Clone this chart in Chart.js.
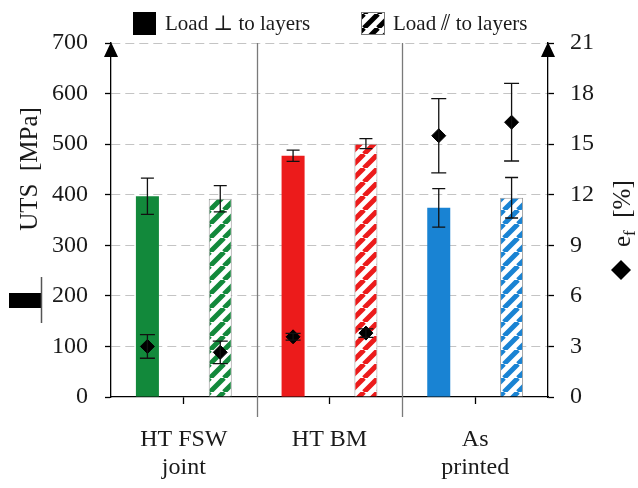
<!DOCTYPE html>
<html>
<head>
<meta charset="utf-8">
<script src="https://cdn.jsdelivr.net/npm/chart.js@4.4.1/dist/chart.umd.min.js"></script>
<style>
  html, body { margin: 0; padding: 0; background: #fff; }
</style>
</head>
<body>
<canvas id="myChart" width="638" height="488"></canvas>
<script>
// categories and values
const groups = [['HT FSW', 'joint'], 'HT BM', ['As', 'printed']];
const legendLabels = ['Load \u22A5 to layers', 'Load \u2AFD to layers'];
const utsPerp = [397, 477, 374];
const utsPerpErr = [36, 11, 38];
const utsPar = [392, 501, 394];
const utsParErr = [26, 10, 40];
const efPerp = [3.0, 3.57, 15.5];
const efPerpErr = [0.7, 0.2, 2.2];
const efPar = [2.65, 3.79, 16.3];
const efParErr = [0.67, 0.25, 2.3];
const groupColors = ['#12893b', '#ec1b1b', '#1983d3'];

const serif = '"Liberation Serif", "DejaVu Serif", serif';

// each group has two slots on a hidden axis: k = 0 for perpendicular, 1 for parallel
const slot = (arr, k) => arr.flatMap(v => k === 0 ? [v, null] : [null, v]);
const slotLabels = groups.flatMap((g, i) => ['g' + i + 'perp', 'g' + i + 'par']);
const slotColors = groupColors.flatMap(c => [c, c]);

function hatch(color) {
    const size = 14;
    const c = document.createElement('canvas');
    c.width = size;
    c.height = size;
    const g = c.getContext('2d');
    g.fillStyle = '#fff';
    g.fillRect(0, 0, size, size);
    g.strokeStyle = color;
    g.lineWidth = 5;
    g.beginPath();
    for (let k = -1; k <= 1; k++) {
        g.moveTo(k * size, size);
        g.lineTo(k * size + size, 0);
    }
    g.stroke();
    return g.createPattern(c, 'repeat');
}

function drawErr(ctx, x, scale, v, e, cap) {
    const yt = scale.getPixelForValue(v + e);
    const yb = scale.getPixelForValue(v - e);
    ctx.beginPath();
    ctx.moveTo(x, yt); ctx.lineTo(x, yb);
    ctx.moveTo(x - cap, yt); ctx.lineTo(x + cap, yt);
    ctx.moveTo(x - cap, yb); ctx.lineTo(x + cap, yb);
    ctx.stroke();
}

const decor = {
    id: 'decor',
    beforeDraw(chart) {
        const ctx = chart.ctx;
        ctx.save();
        ctx.fillStyle = '#fff';
        ctx.fillRect(0, 0, chart.width, chart.height);
        ctx.restore();
    },
    beforeDatasetsDraw(chart) {
        // separators between the groups
        const ctx = chart.ctx;
        const xg = chart.scales.xg;
        const area = chart.chartArea;
        const half = (xg.getPixelForValue(1) - xg.getPixelForValue(0)) / 2;
        ctx.save();
        ctx.strokeStyle = '#7a7a7a';
        ctx.lineWidth = 1.3;
        for (let i = 0; i < groups.length - 1; i++) {
            const px = Math.round(xg.getPixelForValue(i) + half) + 0.5;
            ctx.beginPath();
            ctx.moveTo(px, area.top);
            ctx.lineTo(px, area.bottom + 20);
            ctx.stroke();
        }
        ctx.restore();
    },
    afterDatasetsDraw(chart) {
        const ctx = chart.ctx;
        ctx.save();
        ctx.strokeStyle = '#111';
        ctx.lineWidth = 1.3;
        chart.data.datasets.forEach((ds, di) => {
            const meta = chart.getDatasetMeta(di);
            const scale = chart.scales[meta.yAxisID];
            meta.data.forEach((el, i) => {
                if (ds.data[i] === null) return;
                drawErr(ctx, el.x, scale, ds.data[i], ds.errors[i], ds.type === 'line' ? 7.5 : 6.5);
            });
        });
        ctx.restore();
    },
    afterDraw(chart) {
        const ctx = chart.ctx;
        const area = chart.chartArea;
        ctx.save();
        // arrows on both value axes
        ctx.fillStyle = '#000';
        [area.left, area.right].forEach(ax => {
            ctx.beginPath();
            ctx.moveTo(ax, area.top - 1);
            ctx.lineTo(ax - 7, area.top + 14);
            ctx.lineTo(ax + 7, area.top + 14);
            ctx.closePath();
            ctx.fill();
        });

        // legend
        ctx.font = '21px ' + serif;
        ctx.textBaseline = 'alphabetic';
        ctx.fillStyle = '#000';
        ctx.fillRect(133, 12, 23, 23);
        ctx.fillStyle = '#1a1a1a';
        ctx.fillText(legendLabels[0], 165, 30);
        ctx.fillStyle = hatch('#000');
        ctx.fillRect(361, 12, 24, 23);
        ctx.strokeStyle = '#777';
        ctx.lineWidth = 1;
        ctx.strokeRect(361.5, 12.5, 23, 22);
        ctx.fillStyle = '#1a1a1a';
        ctx.fillText(legendLabels[1], 393, 30);

        // left title + bar icon
        ctx.save();
        ctx.translate(37, 169);
        ctx.rotate(-Math.PI / 2);
        ctx.font = '25px ' + serif;
        ctx.textAlign = 'center';
        ctx.fillText('UTS  [MPa]', 0, 0);
        ctx.restore();
        ctx.fillStyle = '#000';
        ctx.fillRect(9, 293, 32, 15);
        ctx.strokeStyle = '#555';
        ctx.lineWidth = 1.5;
        ctx.beginPath();
        ctx.moveTo(41.5, 277);
        ctx.lineTo(41.5, 323);
        ctx.stroke();

        // right title + diamond icon
        ctx.save();
        ctx.translate(630, 247);
        ctx.rotate(-Math.PI / 2);
        ctx.fillStyle = '#1a1a1a';
        ctx.textAlign = 'left';
        ctx.font = '25px ' + serif;
        ctx.fillText('e', 0, 0);
        let w = ctx.measureText('e').width;
        ctx.font = '17px ' + serif;
        ctx.fillText('f', w, 5);
        w += ctx.measureText('f').width;
        ctx.font = '25px ' + serif;
        ctx.fillText('  [%]', w, 0);
        ctx.restore();
        ctx.fillStyle = '#000';
        ctx.beginPath();
        ctx.moveTo(621, 260);
        ctx.lineTo(631, 270);
        ctx.lineTo(621, 280);
        ctx.lineTo(611, 270);
        ctx.closePath();
        ctx.fill();
        ctx.restore();
    }
};

const diamond = {
    type: 'line',
    xAxisID: 'x',
    yAxisID: 'y2',
    showLine: false,
    pointStyle: 'rectRot',
    pointRadius: 7,
    backgroundColor: '#000',
    borderColor: '#000',
    order: 0
};

const ctx = document.getElementById('myChart').getContext('2d');
new Chart(ctx, {
    type: 'bar',
    data: {
        labels: slotLabels,
        datasets: [
            { ...diamond, label: 'ef perp', data: slot(efPerp, 0), errors: slot(efPerpErr, 0) },
            { ...diamond, label: 'ef par', data: slot(efPar, 1), errors: slot(efParErr, 1) },
            {
                label: legendLabels[0],
                data: slot(utsPerp, 0),
                errors: slot(utsPerpErr, 0),
                xAxisID: 'x',
                yAxisID: 'y',
                grouped: false,
                backgroundColor: slotColors,
                borderWidth: 0,
                categoryPercentage: 1,
                barPercentage: 0.316,
                order: 1
            }, {
                label: legendLabels[1],
                data: slot(utsPar, 1),
                errors: slot(utsParErr, 1),
                xAxisID: 'x',
                yAxisID: 'y',
                grouped: false,
                backgroundColor: slotColors.map(c => hatch(c)),
                borderColor: '#9a9a9a',
                borderWidth: 1,
                categoryPercentage: 1,
                barPercentage: 0.316,
                order: 1
            }
        ]
    },
    options: {
        responsive: false,
        animation: false,
        layout: { padding: { top: 43, left: 0, right: 0, bottom: 0 } },
        plugins: {
            legend: { display: false },
            tooltip: { enabled: false }
        },
        scales: {
            x: {
                display: false,
                offset: true
            },
            xg: {
                type: 'category',
                labels: groups,
                position: 'bottom',
                offset: true,
                afterFit: s => { s.height = 91; },
                grid: {
                    drawOnChartArea: false,
                    offset: false,
                    tickLength: 7,
                    tickColor: '#000',
                    tickWidth: 1.3
                },
                border: { color: '#000', width: 1.3 },
                ticks: {
                    color: '#1a1a1a',
                    padding: 21,
                    font: { family: serif, size: 24, lineHeight: 1.2 }
                }
            },
            y: {
                position: 'left',
                min: 0,
                max: 700,
                afterFit: s => { s.width = 111; },
                grid: {
                    color: c => (c.tick && c.tick.value === 0) ? 'rgba(0,0,0,0)' : '#c4c4c4',
                    lineWidth: 1,
                    tickLength: 6,
                    tickColor: '#000',
                    tickWidth: 1.3
                },
                border: { color: '#000', width: 1.3, dash: [9, 5] },
                ticks: {
                    stepSize: 100,
                    color: '#1a1a1a',
                    padding: 17,
                    font: { family: serif, size: 24 }
                }
            },
            y2: {
                position: 'right',
                min: 0,
                max: 21,
                afterFit: s => { s.width = 90; },
                grid: {
                    drawOnChartArea: false,
                    tickLength: 6,
                    tickColor: '#000',
                    tickWidth: 1.3
                },
                border: { color: '#000', width: 1.3 },
                ticks: {
                    stepSize: 3,
                    color: '#1a1a1a',
                    padding: 16,
                    font: { family: serif, size: 24 }
                }
            }
        }
    },
    plugins: [decor]
});
</script>
</body>
</html>
